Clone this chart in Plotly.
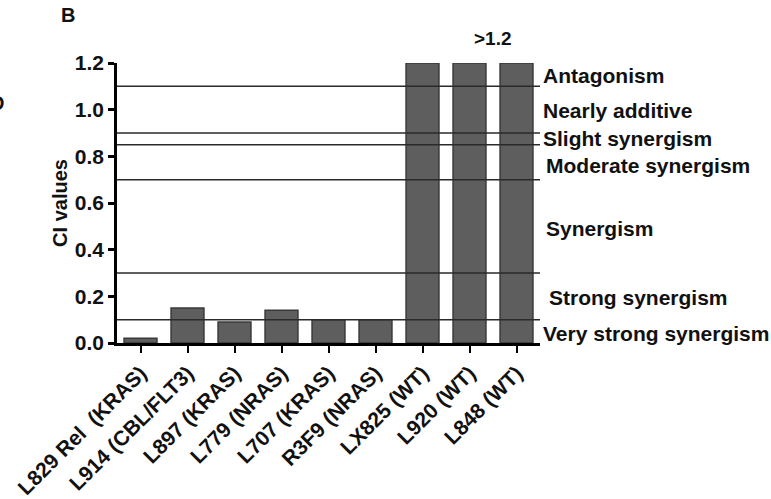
import plotly.graph_objects as go

categories = ["L829 Rel\u00a0 (KRAS)", "L914 (CBL/FLT3)", "L897 (KRAS)", "L779 (NRAS)",
              "L707 (KRAS)", "R3F9 (NRAS)", "LX825 (WT)", "L920 (WT)", "L848 (WT)"]
ci_values = [0.02, 0.15, 0.09, 0.14, 0.10, 0.10, 1.2, 1.2, 1.2]

threshold_lines = [1.1, 0.9, 0.85, 0.7, 0.3, 0.1]
zone_labels = ["Antagonism", "Nearly additive", "Slight synergism", "Moderate synergism",
               "Synergism", "Strong synergism", "Very strong synergism"]
zone_label_y = [1.147, 0.995, 0.878, 0.762, 0.492, 0.196, 0.041]
zone_label_shift = [1, 1, 1, 4, 4, 7, 1]
y_max = 1.2

FONT = "Liberation Sans"
W, H = 771, 499
L, R, T, B = 117, 231, 63, 156
PW, PH = W - L - R, H - T - B

fig = go.Figure()
fig.add_trace(go.Bar(
    x=list(range(len(categories))), y=ci_values, width=0.7,
    marker=dict(color="#5e5e5e", line=dict(color="#3a3a3a", width=1.5)),
    showlegend=False, hoverinfo="skip",
))

for v in threshold_lines:
    fig.add_shape(type="line", xref="paper", x0=0, x1=1, yref="y", y0=v, y1=v,
                  line=dict(color="#2a2a2a", width=1.5), layer="above")

for lab, yy, sh in zip(zone_labels, zone_label_y, zone_label_shift):
    fig.add_annotation(text=lab, xref="paper", x=1, xanchor="left", xshift=sh,
                       yref="y", y=yy, yanchor="middle", showarrow=False,
                       font=dict(family=FONT, size=21, color="#111", weight="bold"))

fig.add_annotation(text=">1.2", xref="x", x=7.5, yref="paper", y=1.305 / y_max,
                   yanchor="middle", showarrow=False,
                   font=dict(family=FONT, size=19, color="#111", weight="bold"))
fig.add_annotation(text="B", xref="paper", x=(68 - L) / PW, xanchor="center",
                   yref="paper", y=(H - B - 15) / PH, yanchor="middle", showarrow=False,
                   font=dict(family=FONT, size=20, color="#111", weight="bold"))
fig.add_annotation(text="D", xref="paper", x=(6 - L) / PW, xanchor="right",
                   yref="paper", y=(H - B - 103) / PH, yanchor="middle", showarrow=False,
                   font=dict(family=FONT, size=20, color="#111", weight="bold"))

fig.update_layout(
    template="none",
    width=W, height=H,
    margin=dict(l=L, r=R, t=T, b=B, pad=0),
    paper_bgcolor="white", plot_bgcolor="white",
    font=dict(family=FONT, color="#111"),
    bargap=0.3,
)
fig.update_xaxes(
    range=[-0.5, 8.5], tickmode="array", tickvals=list(range(len(categories))),
    ticktext=categories, tickangle=-45, automargin=False,
    tickfont=dict(family=FONT, size=21, color="#111", weight="bold"),
    showline=True, linecolor="black", linewidth=2.5,
    ticks="outside", ticklen=7, tickwidth=2, tickcolor="black",
    showgrid=False, zeroline=False,
)
fig.update_yaxes(
    range=[0, y_max], tickvals=[0, 0.2, 0.4, 0.6, 0.8, 1.0, 1.2], tickformat=".1f",
    automargin=False,
    tickfont=dict(family=FONT, size=21, color="#111", weight="bold"),
    showline=True, linecolor="black", linewidth=2.5,
    ticks="outside", ticklen=6, tickwidth=2.5, tickcolor="black",
    showgrid=False, zeroline=False,
    title=dict(text="CI values", font=dict(family=FONT, size=20, color="#111", weight="bold"),
               standoff=2),
)

fig.write_html("out.html", config={"displayModeBar": False},
               post_script="document.body.style.margin='0px';document.body.style.overflow='hidden';")
